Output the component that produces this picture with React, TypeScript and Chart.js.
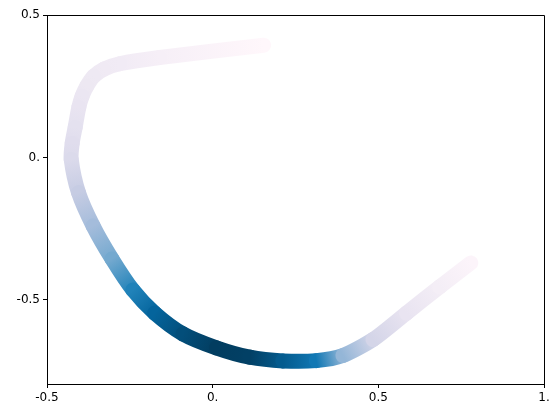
import React, { useEffect, useRef } from "react";
import { Chart, registerables } from "chart.js";

Chart.register(...registerables);

// Curve points (centre line)
const xValues = [0.154, -0.16, -0.281, -0.329, -0.359, -0.38, -0.394, -0.404, -0.415, -0.424, -0.427, -0.405, -0.361, -0.304, -0.241, -0.175, -0.09, 0.011, 0.112, 0.212, 0.313, 0.393, 0.484, 0.585, 0.685, 0.779];
const yValues = [0.394, 0.351, 0.329, 0.31, 0.285, 0.25, 0.215, 0.176, 0.106, 0.05, -0.006, -0.123, -0.24, -0.356, -0.465, -0.546, -0.619, -0.668, -0.701, -0.714, -0.713, -0.695, -0.639, -0.546, -0.454, -0.37];
// Colour value (0..1 on PuBu) at each point
const colorValues = [0.0, 0.06, 0.09, 0.1, 0.11, 0.12, 0.13, 0.14, 0.16, 0.18, 0.2, 0.28, 0.38, 0.5, 0.68, 0.82, 0.92, 0.98, 0.97, 0.87, 0.72, 0.42, 0.23, 0.14, 0.07, 0.02];

const xTicks = [-0.5, 0, 0.5, 1];
const xTickLabels = ["-0.5", "0.", "0.5", "1."];
const yTicks = [-0.5, 0, 0.5];
const yTickLabels = ["-0.5", "0.", "0.5"];

const PUBU = ["#fff7fb", "#ece7f2", "#d0d1e6", "#a6bddb", "#74a9cf", "#3690c0", "#0570b0", "#045a8d", "#023858"];

function hexToRgb(h: string) {
  return [parseInt(h.slice(1, 3), 16), parseInt(h.slice(3, 5), 16), parseInt(h.slice(5, 7), 16)];
}

function cmap(v: number) {
  const t = Math.max(0, Math.min(1, v)) * (PUBU.length - 1);
  const i = Math.min(PUBU.length - 2, Math.floor(t));
  const f = t - i;
  const a = hexToRgb(PUBU[i]);
  const b = hexToRgb(PUBU[i + 1]);
  const c = a.map((av, k) => Math.round(av + (b[k] - av) * f));
  return `rgb(${c[0]},${c[1]},${c[2]})`;
}

const frame = {
  id: "frame",
  afterDatasetsDraw(chart: any) {
    const { ctx, chartArea } = chart;
    ctx.save();
    ctx.strokeStyle = "#000";
    ctx.lineWidth = 1;
    ctx.beginPath();
    ctx.moveTo(Math.round(chartArea.left) + 0.5, Math.round(chartArea.top) + 0.5);
    ctx.lineTo(Math.round(chartArea.right) + 0.5, Math.round(chartArea.top) + 0.5);
    ctx.lineTo(Math.round(chartArea.right) + 0.5, Math.round(chartArea.bottom) + 0.5);
    ctx.stroke();
    ctx.restore();
  },
};

export default function App() {
  const ref = useRef<HTMLCanvasElement | null>(null);
  useEffect(() => {
    if (!ref.current) return;
    const data = xValues.map((x, i) => ({ x, y: yValues[i] }));
    const font = { family: "DejaVu Sans", size: 12 };
    const chart = new Chart(ref.current, {
      type: "line",
      data: {
        datasets: [
          {
            data,
            borderWidth: 15,
            borderCapStyle: "round",
            borderJoinStyle: "round",
            pointRadius: 0,
            tension: 0.25,
            fill: false,
            segment: {
              borderColor: (c: any) => {
                const g = c.chart.ctx.createLinearGradient(c.p0.x, c.p0.y, c.p1.x, c.p1.y);
                g.addColorStop(0, cmap(colorValues[c.p0DataIndex]));
                g.addColorStop(1, cmap(colorValues[c.p1DataIndex]));
                return g;
              },
            },
          } as any,
        ],
      },
      options: {
        responsive: false,
        animation: false,
        layout: { padding: { top: 15, right: 15, left: 0, bottom: 0 } },
        plugins: { legend: { display: false }, tooltip: { enabled: false } },
        scales: {
          x: {
            type: "linear",
            min: -0.5,
            max: 1.0,
            afterBuildTicks: (s: any) => {
              s.ticks = xTicks.map((v) => ({ value: v }));
            },
            afterFit: (s: any) => {
              s.height = 34;
            },
            ticks: {
              color: "#000",
              font,
              padding: 3,
              maxRotation: 0,
              autoSkip: false,
              callback: (v: any) => xTickLabels[xTicks.indexOf(Number(v))] ?? "",
            },
            grid: { drawOnChartArea: false, drawTicks: true, tickLength: 4, color: "#000" },
            border: { display: true, color: "#000", width: 1 },
          },
          y: {
            type: "linear",
            min: -0.795,
            max: 0.5,
            afterBuildTicks: (s: any) => {
              s.ticks = yTicks.map((v) => ({ value: v }));
            },
            afterFit: (s: any) => {
              s.width = 47;
            },
            ticks: {
              color: "#000",
              font,
              padding: 3,
              autoSkip: false,
              callback: (v: any) => yTickLabels[yTicks.indexOf(Number(v))] ?? "",
            },
            grid: { drawOnChartArea: false, drawTicks: true, tickLength: 4, color: "#000" },
            border: { display: true, color: "#000", width: 1 },
          },
        },
      } as any,
      plugins: [frame],
    });
    return () => chart.destroy();
  }, []);
  return (
    <div style={{ position: "fixed", left: 0, top: 0, width: 559, height: 418, background: "#fff" }}>
      <canvas ref={ref} width={559} height={418} />
    </div>
  );
}
